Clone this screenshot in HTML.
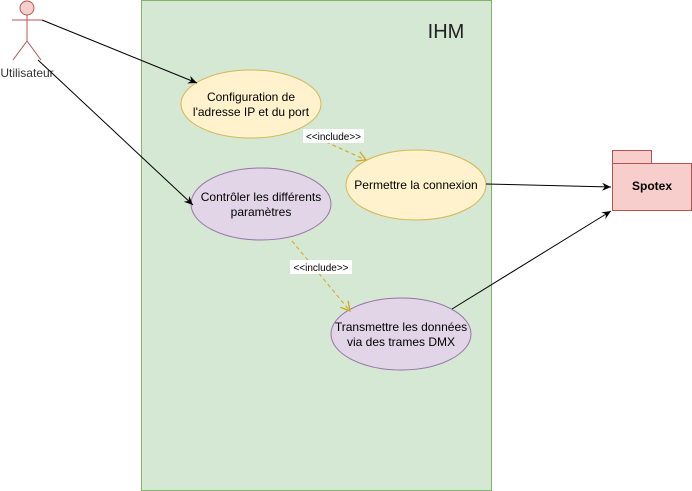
<!DOCTYPE html>
<html><head><style>body{margin:0;background:#fff}svg{display:block}text{font-family:"Liberation Sans",sans-serif}</style></head><body>
<svg width="692" height="491" viewBox="0 0 692 491">
<defs>
<marker id="a" markerWidth="10" markerHeight="10" refX="9" refY="5" orient="auto" markerUnits="userSpaceOnUse"><path d="M0,1 L9,5 L0,9 L3,5z" fill="#000"/></marker>
<marker id="o" markerWidth="12" markerHeight="12" refX="10" refY="6" orient="auto" markerUnits="userSpaceOnUse"><path d="M1,1 L10,6 L1,11" fill="none" stroke="#d6a41b" stroke-width="1.3"/></marker>
</defs>
<rect x="141.5" y="0.5" width="350" height="490" fill="#d5e8d4" stroke="#82b366"/>
<text x="446" y="38" font-size="20" text-anchor="middle" fill="#222">IHM</text>
<circle cx="27" cy="8" r="7" fill="#f8cecc" stroke="#b85450"/>
<path d="M27 15V41M12 20H42M27 41L13 60M27 41L41 60" stroke="#b85450" fill="none"/>
<text x="27" y="77" font-size="12" text-anchor="middle" fill="#333">Utilisateur</text>
<ellipse cx="251" cy="104" rx="70" ry="34" fill="#fff2cc" stroke="#d6b656"/>
<text x="251" y="101" font-size="12" text-anchor="middle">Configuration de</text>
<text x="251" y="116" font-size="12" text-anchor="middle">l'adresse IP et du port</text>
<ellipse cx="261" cy="204" rx="70" ry="36" fill="#e1d5e7" stroke="#9673a6"/>
<text x="261" y="201" font-size="12" text-anchor="middle">Contrôler les différents</text>
<text x="261" y="216" font-size="12" text-anchor="middle">paramètres</text>
<ellipse cx="416" cy="185" rx="70" ry="35" fill="#fff2cc" stroke="#d6b656"/>
<text x="416" y="189" font-size="12" text-anchor="middle">Permettre la connexion</text>
<ellipse cx="401" cy="334" rx="70" ry="36" fill="#e1d5e7" stroke="#9673a6"/>
<text x="401" y="331" font-size="12" text-anchor="middle">Transmettre les données</text>
<text x="401" y="346" font-size="12" text-anchor="middle">via des trames DMX</text>
<rect x="612.5" y="150.5" width="39" height="13" fill="#f8cecc" stroke="#b85450"/>
<rect x="612.5" y="163.5" width="79" height="47" fill="#f8cecc" stroke="#b85450"/>
<text x="652" y="190" font-size="12" font-weight="bold" text-anchor="middle">Spotex</text>
<line x1="42" y1="20" x2="197" y2="83" stroke="#000" marker-end="url(#a)"/>
<line x1="38" y1="60" x2="193" y2="205" stroke="#000" marker-end="url(#a)"/>
<line x1="486" y1="184" x2="611" y2="187" stroke="#000" marker-end="url(#a)"/>
<line x1="452" y1="309" x2="611" y2="211" stroke="#000" marker-end="url(#a)"/>
<line x1="326" y1="142" x2="366" y2="160" stroke="#d6a41b" stroke-dasharray="4 3" marker-end="url(#o)"/>
<line x1="292" y1="241" x2="350" y2="311" stroke="#d6a41b" stroke-dasharray="4 3" marker-end="url(#o)"/>
<rect x="303" y="129" width="61" height="14" fill="#fff"/>
<text x="333.5" y="140" font-size="10" text-anchor="middle">&lt;&lt;include&gt;&gt;</text>
<rect x="290" y="260" width="62" height="14" fill="#fff"/>
<text x="321" y="271" font-size="10" text-anchor="middle">&lt;&lt;include&gt;&gt;</text>
</svg>
</body></html>
